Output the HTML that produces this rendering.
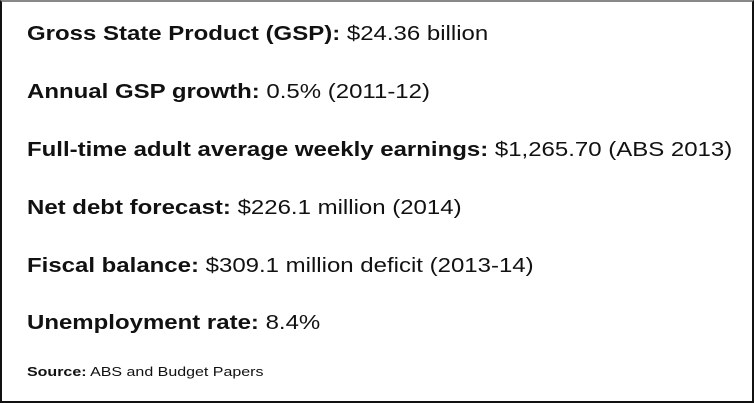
<!DOCTYPE html>
<html><head><meta charset="utf-8"><style>
html,body{margin:0;padding:0;background:#fff;}
#box{position:relative;width:754px;height:403px;box-sizing:border-box;border:2px solid #111;border-top-color:#888;overflow:hidden;font-family:"Liberation Sans",Arial,sans-serif;color:#111;}
.l{position:absolute;left:25px;font-size:20.5px;line-height:24px;white-space:nowrap;transform:scaleX(1.17);transform-origin:0 50%;}
.l b{font-weight:bold;}
.s{position:absolute;left:25px;top:362px;font-size:13px;line-height:16px;white-space:nowrap;transform:scaleX(1.23);transform-origin:0 50%;}
</style></head><body>
<div id="box">
<div class="l" style="top:20px"><b>Gross State Product (GSP):</b> $24.36 billion</div>
<div class="l" style="top:78px"><b>Annual GSP growth:</b> 0.5% (2011-12)</div>
<div class="l" style="top:136px"><b>Full-time adult average weekly earnings:</b> $1,265.70 (ABS 2013)</div>
<div class="l" style="top:194px"><b>Net debt forecast:</b> $226.1 million (2014)</div>
<div class="l" style="top:252px"><b>Fiscal balance:</b> $309.1 million deficit (2013-14)</div>
<div class="l" style="top:309px"><b>Unemployment rate:</b> 8.4%</div>
<div class="s"><b>Source:</b> ABS and Budget Papers</div>
</div>
</body></html>
